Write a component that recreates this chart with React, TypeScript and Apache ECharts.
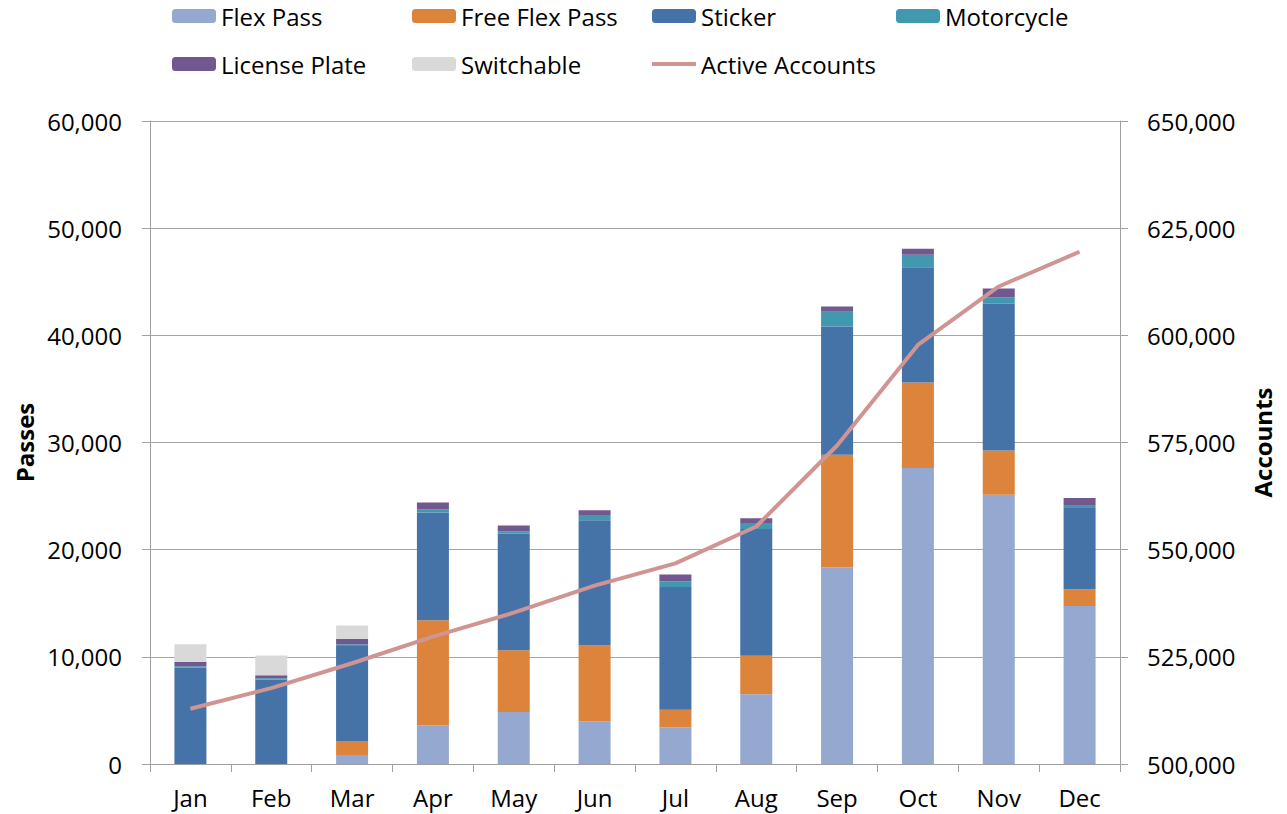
import React, { useEffect, useRef } from "react";
import * as echarts from "echarts";

const months = ["Jan", "Feb", "Mar", "Apr", "May", "Jun", "Jul", "Aug", "Sep", "Oct", "Nov", "Dec"];
const flexPass = [0, 0, 840, 3600, 4850, 4000, 3420, 6500, 18330, 27610, 25130, 14750];
const freeFlexPass = [0, 0, 1300, 9820, 5770, 7060, 1640, 3590, 10530, 7990, 4130, 1560];
const sticker = [9010, 7890, 8860, 10040, 10880, 11680, 11460, 11840, 11960, 10750, 13680, 7580];
const motorcycle = [120, 100, 180, 300, 210, 490, 510, 560, 1370, 1180, 610, 280];
const licensePlate = [380, 280, 500, 630, 540, 440, 650, 440, 490, 560, 810, 650];
const switchable = [1670, 1860, 1250, 0, 0, 0, 0, 0, 0, 0, 0, 0];
const activeAccounts = [512900, 517700, 523500, 529700, 535300, 541600, 546800, 555400, 574300, 597750, 611400, 619500];

const FONT = "'Open Sans', sans-serif";
const fmt = (v: number) => v.toLocaleString("en-US");

export default function App() {
  const ref = useRef<HTMLDivElement>(null);
  useEffect(() => {
    if (!ref.current) return;
    const chart = echarts.init(ref.current, null, { renderer: "svg" });
    const barSeries = [
      { name: "Flex Pass", data: flexPass, color: "#95a9d0" },
      { name: "Free Flex Pass", data: freeFlexPass, color: "#dc833c" },
      { name: "Sticker", data: sticker, color: "#4572a7" },
      { name: "Motorcycle", data: motorcycle, color: "#4198af" },
      { name: "License Plate", data: licensePlate, color: "#71588f" },
      { name: "Switchable", data: switchable, color: "#d9d9d9" },
    ].map((s) => ({
      name: s.name,
      type: "bar",
      stack: "passes",
      barWidth: 32,
      data: s.data,
      itemStyle: { color: s.color },
    }));
    const legendPos: [string, number, number][] = [
      ["Flex Pass", 172, 4],
      ["Free Flex Pass", 412, 4],
      ["Sticker", 652, 4],
      ["Motorcycle", 896, 4],
      ["License Plate", 172, 52],
      ["Switchable", 412, 52],
      ["Active Accounts", 652, 52],
    ];
    const axisLine = { show: true, lineStyle: { color: "#a0a0a0", width: 1 } };
    const tick = { show: true, length: 8, lineStyle: { color: "#a0a0a0" } };
    chart.setOption({
      animation: false,
      textStyle: { fontFamily: FONT },
      legend: legendPos.map(([n, l, t]) => {
        const isLine = n === "Active Accounts";
        return {
          data: isLine ? [{ name: n, icon: "rect" }] : [n],
          left: l,
          top: t,
          padding: 0,
          itemWidth: 44,
          itemHeight: isLine ? 4 : 14,
          itemGap: 4,
          textStyle: { fontFamily: FONT, fontSize: 24, color: "#000" },
          selectedMode: false,
        };
      }),
      grid: { left: 150, right: 167, top: 121, bottom: 50, containLabel: false },
      xAxis: {
        type: "category",
        data: months,
        axisLine,
        axisTick: tick,
        axisLabel: { fontFamily: FONT, fontSize: 24, color: "#000", margin: 21 },
      },
      yAxis: [
        {
          type: "value",
          min: 0,
          max: 60000,
          interval: 10000,
          name: "Passes",
          nameLocation: "middle",
          nameRotate: 90,
          nameGap: 110,
          nameTextStyle: { fontFamily: FONT, fontSize: 24, fontWeight: "bold", color: "#000" },
          axisLine,
          axisTick: tick,
          axisLabel: { fontFamily: FONT, fontSize: 24, color: "#000", margin: 28, formatter: fmt },
          splitLine: { show: true, lineStyle: { color: "#a6a6a6", width: 1 } },
        },
        {
          type: "value",
          min: 500000,
          max: 650000,
          interval: 25000,
          name: "Accounts",
          nameLocation: "middle",
          nameRotate: 90,
          nameGap: 130,
          nameTextStyle: { fontFamily: FONT, fontSize: 24, fontWeight: "bold", color: "#000" },
          axisLine,
          axisTick: tick,
          axisLabel: { fontFamily: FONT, fontSize: 24, color: "#000", margin: 27, formatter: fmt },
          splitLine: { show: false },
        },
      ],
      series: [
        ...barSeries,
        {
          name: "Active Accounts",
          type: "line",
          yAxisIndex: 1,
          data: activeAccounts,
          symbol: "none",
          lineStyle: { color: "#d09493", width: 4 },
          itemStyle: { color: "#d09493" },
          z: 5,
        },
      ],
    });
    return () => chart.dispose();
  }, []);
  return <div ref={ref} style={{ width: 1287, height: 814, position: "absolute", left: 0, top: 0 }} />;
}
